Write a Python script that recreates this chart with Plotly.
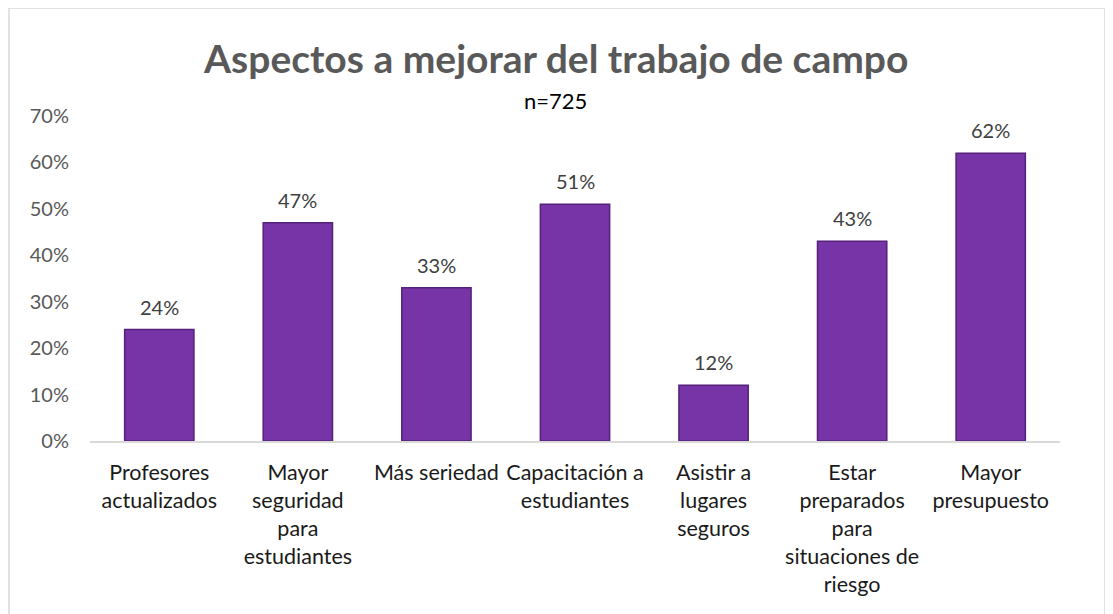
import plotly.graph_objects as go

categories = [
    "Profesores<br>actualizados",
    "Mayor<br>seguridad<br>para<br>estudiantes",
    "Más seriedad",
    "Capacitación a<br>estudiantes",
    "Asistir a<br>lugares<br>seguros",
    "Estar<br>preparados<br>para<br>situaciones de<br>riesgo",
    "Mayor<br>presupuesto",
]
values = [0.24, 0.47, 0.33, 0.51, 0.12, 0.43, 0.62]
labels = ["24%", "47%", "33%", "51%", "12%", "43%", "62%"]
y_ticks = [0, 0.1, 0.2, 0.3, 0.4, 0.5, 0.6, 0.7]
y_tick_text = ["0%", "10%", "20%", "30%", "40%", "50%", "60%", "70%"]

FONT = "Lato, 'Open Sans', sans-serif"

fig = go.Figure()
fig.add_trace(go.Bar(
    x=categories,
    y=values,
    marker=dict(color="#7634A6", line=dict(color="#55217A", width=1.5)),
    hoverinfo="skip",
))

annotations = [
    dict(x=c, y=v, text=t, xref="x", yref="y", showarrow=False,
         xanchor="center", yanchor="bottom", yshift=9,
         font=dict(family=FONT, size=20, color="#404040"))
    for c, v, t in zip(categories, values, labels)
]
annotations += [
    dict(text="<b>Aspectos a mejorar del trabajo de campo</b>",
         xref="paper", yref="paper", x=0.480, y=1.177,
         xanchor="center", yanchor="middle", showarrow=False,
         font=dict(family=FONT, size=39, color="#595959")),
    dict(text="n=725",
         xref="paper", yref="paper", x=0.480, y=1.048,
         xanchor="center", yanchor="middle", showarrow=False,
         font=dict(family=FONT, size=22, color="#000000")),
]

fig.update_layout(
    width=1113,
    height=614,
    margin=dict(l=82, r=61, t=108, b=181),
    paper_bgcolor="white",
    plot_bgcolor="white",
    bargap=0.5,
    showlegend=False,
    font=dict(family=FONT),
    xaxis=dict(
        showline=True, linecolor="#D9D9D9", linewidth=2,
        showgrid=False, ticks="",
        tickfont=dict(family=FONT, size=21.5, color="#1a1a1a"),
        ticklabelstandoff=11,
        fixedrange=True,
    ),
    yaxis=dict(
        range=[0, 0.7],
        tickvals=y_ticks, ticktext=y_tick_text,
        showgrid=False, showline=False, zeroline=False,
        tickfont=dict(family=FONT, size=20, color="#595959"),
        ticklabelstandoff=20,
        fixedrange=True,
    ),
    shapes=[dict(
        type="rect", xref="paper", yref="paper",
        x0=-0.0835, x1=1.0464, y0=-0.6, y1=1.332,
        line=dict(color="#D9D9D9", width=1.5), fillcolor="rgba(0,0,0,0)",
        layer="below",
    )],
    annotations=annotations,
)

fig.write_html("out.html")
